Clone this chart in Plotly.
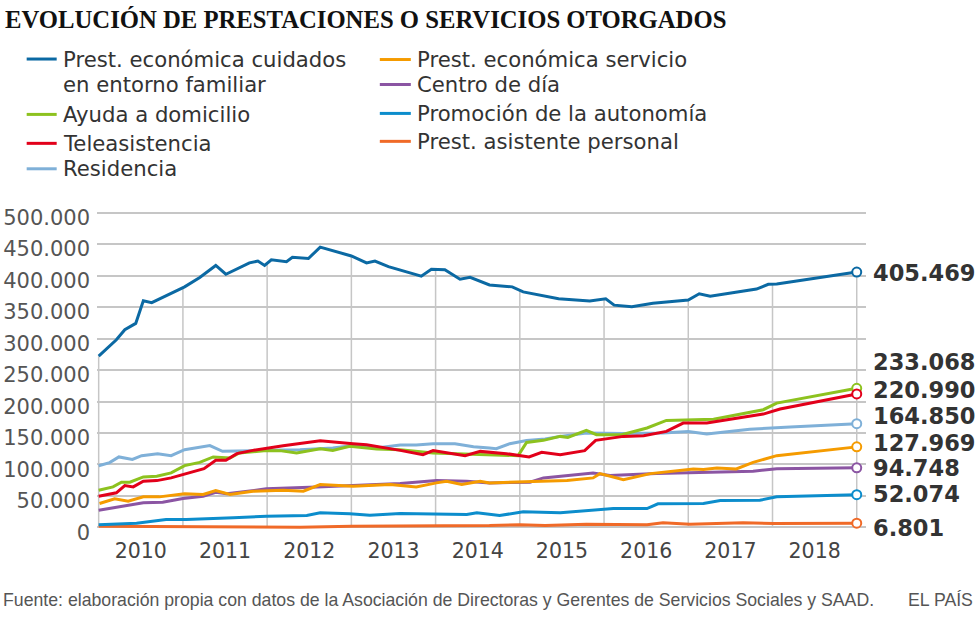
import numpy as np
import plotly.graph_objects as go

# ---------------------------------------------------------------------------
# Data (x in decimal years)
# ---------------------------------------------------------------------------
CUIDADOS_X = [2010.00, 2010.21, 2010.31, 2010.44, 2010.53, 2010.63, 2011.02, 2011.20, 2011.39, 2011.51,
              2011.79, 2011.89, 2011.97, 2012.05, 2012.23, 2012.30, 2012.49, 2012.63, 2013.00, 2013.18,
              2013.28, 2013.44, 2013.83, 2013.95, 2014.11, 2014.29, 2014.41, 2014.64, 2014.91, 2015.04,
              2015.46, 2015.83, 2016.02, 2016.12, 2016.33, 2016.58, 2017.00, 2017.13, 2017.26, 2017.81,
              2017.95, 2018.05, 2019.00]
CUIDADOS_Y = [272000, 298000, 314000, 324000, 360000, 357000, 382000, 397000, 416000, 402000,
              420000, 423000, 416000, 425000, 422000, 429000, 427000, 445000, 431000, 420000,
              423000, 414000, 399000, 410000, 409000, 394000, 397000, 385000, 382000, 374000,
              363000, 359500, 363000, 353000, 350500, 356000, 361000, 371000, 367000, 378500,
              386000, 386500, 405469]

SERVICIO_X = [2010.01, 2010.19, 2010.35, 2010.53, 2010.72, 2011.02, 2011.24, 2011.39, 2011.56, 2011.83,
              2012.19, 2012.43, 2012.63, 2013.02, 2013.46, 2013.77, 2014.01, 2014.13, 2014.31, 2014.53,
              2014.64, 2015.04, 2015.56, 2015.87, 2015.95, 2016.23, 2016.55, 2017.06, 2017.18, 2017.34,
              2017.57, 2017.77, 2018.05, 2019.00]
SERVICIO_Y = [38000, 45400, 41700, 48600, 48600, 53400, 52300, 58600, 52300, 57500,
              59000, 57500, 68100, 65400, 68100, 64400, 70800, 73300, 68100, 73300,
              70800, 72400, 74400, 78700, 85500, 76000, 85500, 93000, 91900, 94600,
              93000, 103400, 114000, 127969]

AYUDA_X = [2010.00, 2010.17, 2010.27, 2010.37, 2010.53, 2010.69, 2010.86, 2011.02, 2011.20, 2011.36,
           2011.56, 2011.67, 2011.99, 2012.15, 2012.35, 2012.63, 2012.78, 2012.98, 2013.30, 2013.58,
           2013.97, 2014.45, 2014.64, 2014.98, 2015.08, 2015.28, 2015.48, 2015.57, 2015.79, 2015.91,
           2016.21, 2016.51, 2016.74, 2017.02, 2017.30, 2017.89, 2018.05, 2019.00]
AYUDA_Y = [59000, 64400, 71800, 71800, 80300, 81300, 86600, 98200, 103400, 112000,
           110400, 118300, 122000, 122000, 118300, 125000, 122400, 128800, 124600, 123500,
           118300, 116700, 115600, 114000, 135000, 138300, 144600, 143000, 154000, 147300,
           147300, 157900, 170000, 171000, 172000, 187000, 197500, 220990]

CENTRO_X = [2010.00, 2010.21, 2010.53, 2010.76, 2011.00, 2011.24, 2011.39, 2011.52, 2011.99, 2012.59,
            2013.18, 2013.58, 2014.01, 2014.37, 2014.64, 2015.12, 2015.28, 2015.56, 2015.87, 2016.07,
            2016.62, 2017.77, 2018.05, 2019.00]
CENTRO_Y = [27400, 32200, 39100, 40100, 45900, 49600, 55900, 53400, 61300, 64400,
            67000, 69700, 74400, 73300, 70800, 71800, 78700, 82800, 86600, 82400,
            85500, 89200, 93400, 94748]

TELE_X = [2010.00, 2010.21, 2010.31, 2010.41, 2010.53, 2010.69, 2010.86, 2011.04, 2011.25, 2011.39,
          2011.51, 2011.64, 2011.83, 2012.19, 2012.63, 2013.02, 2013.18, 2013.58, 2013.85, 2013.97,
          2014.21, 2014.35, 2014.53, 2014.64, 2014.84, 2015.11, 2015.26, 2015.48, 2015.77, 2015.90,
          2016.03, 2016.23, 2016.47, 2016.74, 2016.94, 2017.22, 2017.89, 2018.09, 2019.00]
TELE_Y = [49600, 55000, 66500, 64400, 73300, 74400, 78700, 85500, 93400, 106600,
          106600, 117200, 122400, 129900, 137800, 133000, 131500, 122400, 115600, 122000,
          117200, 114000, 120800, 119900, 117200, 112000, 119300, 115600, 122000, 138300,
          140500, 144600, 145700, 152500, 165800, 165800, 180000, 188000, 212000]

PROMOCION_X = [2010.00, 2010.45, 2010.80, 2011.04, 2011.60, 2011.99, 2012.47, 2012.63, 2012.98, 2013.22,
               2013.58, 2013.97, 2014.37, 2014.49, 2014.64, 2014.76, 2015.04, 2015.48, 2016.11, 2016.51,
               2016.64, 2017.18, 2017.38, 2017.85, 2018.05, 2019.00]
PROMOCION_Y = [4300, 6800, 12700, 12700, 15400, 17900, 19000, 23300, 21700, 19500,
               22200, 21000, 20600, 23300, 20600, 19000, 24900, 23300, 30100, 30100,
               37500, 38000, 42800, 43200, 48600, 52074]

ASISTENTE_X = [2010.00, 2011.00, 2012.39, 2013.00, 2014.00, 2014.64, 2015.00, 2015.30, 2015.79, 2016.51,
               2016.70, 2017.02, 2017.65, 2018.01, 2019.00]
ASISTENTE_Y = [2000, 1500, 500, 2000, 2500, 3000, 4300, 3200, 5300, 4300,
               7400, 5300, 7400, 6300, 6801]

RESIDENCIA_X = [2010.00, 2010.13, 2010.24, 2010.40, 2010.51, 2010.70, 2010.86, 2011.02, 2011.32, 2011.47,
                2011.83, 2012.39, 2012.78, 2013.02, 2013.30, 2013.58, 2013.77, 2013.97, 2014.23, 2014.45,
                2014.64, 2014.72, 2014.88, 2015.08, 2015.30, 2015.48, 2015.79, 2016.23, 2016.70, 2017.00,
                2017.22, 2017.73, 2018.21, 2019.00]
RESIDENCIA_Y = [98000, 103000, 112000, 108000, 114000, 117000, 114000, 123500, 130000, 121000,
                122000, 123500, 126000, 130000, 126000, 131000, 131000, 133000, 133000, 128000,
                126000, 125000, 133000, 138000, 140500, 144600, 150000, 149000, 150000, 152500,
                148400, 156000, 159500, 164850]

YEARS = [2010, 2011, 2012, 2013, 2014, 2015, 2016, 2017, 2018]
END_LABELS = ["405.469", "233.068", "220.990", "164.850", "127.969", "94.748", "52.074", "6.801"]

# ---------------------------------------------------------------------------
# Style / layout
# ---------------------------------------------------------------------------
W, H = 980, 619
M_L, M_R, M_T, M_B = 97.3, 114, 209.8, 88.5
X_RANGE = [2009.98, 2019.11]
Y_RANGE = [-4000, 504000]
TEXT = "#333333"
GRID = "#c6c6c6"
SANS = "DejaVu Sans, Verdana, sans-serif"
NARROW = "Liberation Sans, Arial, sans-serif"

# (name, x, y, colour, legend column, legend row y in px)
SERIES = [
    ("Prest. económica cuidados<br>en entorno familiar", CUIDADOS_X, CUIDADOS_Y, "#0b69a3", 0, 58.5),
    ("Ayuda a domicilio", AYUDA_X, AYUDA_Y, "#8dc21f", 0, 114),
    ("Teleasistencia", TELE_X, TELE_Y, "#e2001a", 0, 143),
    ("Residencia", RESIDENCIA_X, RESIDENCIA_Y, "#7fb0d8", 0, 168.5),
    ("Prest. económica servicio", SERVICIO_X, SERVICIO_Y, "#f59b00", 1, 59),
    ("Centro de día", CENTRO_X, CENTRO_Y, "#8b55a3", 1, 84),
    ("Promoción de la autonomía", PROMOCION_X, PROMOCION_Y, "#0c8dcc", 1, 113),
    ("Prest. asistente personal", ASISTENTE_X, ASISTENTE_Y, "#f06a28", 1, 141),
]
DRAW_ORDER = [7, 6, 5, 4, 3, 1, 2, 0]
LEGEND_COLS = [(27, 57, 61), (380, 411, 415)]
LABEL_Y = [403400, 263400, 217800, 177100, 134100, 93800, 52700, -500]

PLOT_W = W - M_L - M_R
PLOT_H = H - M_T - M_B


def px(x, y):
    """pixel position -> paper coordinates"""
    return (x - M_L) / PLOT_W, (H - M_B - y) / PLOT_H


fig = go.Figure()

for i in DRAW_ORDER:
    name, xs, ys, color, _, _ = SERIES[i]
    fig.add_trace(go.Scatter(x=xs, y=ys, mode="lines", name=name.replace("<br>", " "),
                             line=dict(color=color, width=3), showlegend=False,
                             hoverinfo="x+y"))
    fig.add_trace(go.Scatter(x=[xs[-1]], y=[ys[-1]], mode="markers", showlegend=False,
                             marker=dict(size=9, color="white", line=dict(color=color, width=2)),
                             cliponaxis=False, hoverinfo="skip"))

# vertical gridlines, drawn only up to the top series
for yr in YEARS + [YEARS[-1] + 1]:
    top = float(np.interp(yr, CUIDADOS_X, CUIDADOS_Y))
    fig.add_shape(type="line", xref="x", yref="y", x0=yr, x1=yr, y0=0, y1=top,
                  line=dict(color=GRID, width=1.5), layer="below")

# manual legend
for name, _, _, color, col, row in SERIES:
    x0, x1, xt = LEGEND_COLS[col]
    a, b = px(x0, row)
    c, _ = px(x1, row)
    fig.add_shape(type="line", xref="paper", yref="paper", x0=a, x1=c, y0=b, y1=b,
                  line=dict(color=color, width=3))
    for k, part in enumerate(name.split("<br>")):
        tx, ty = px(xt, row + 25.5 * k)
        fig.add_annotation(x=tx, y=ty, xref="paper", yref="paper", text=part, showarrow=False,
                           xanchor="left", yanchor="middle",
                           font=dict(family=SANS, size=21.2, color=TEXT))

# end-value labels
for text, ly in zip(END_LABELS, LABEL_Y):
    fig.add_annotation(x=2019.0, y=ly, xref="x", yref="y", text=text, showarrow=False,
                       xanchor="left", yanchor="middle", xshift=14,
                       font=dict(family=SANS, size=22.5, color=TEXT, weight="bold"))

# title
tx, ty = px(3, 19)
fig.add_annotation(x=tx, y=ty, xref="paper", yref="paper", showarrow=False,
                   text="EVOLUCIÓN DE PRESTACIONES O SERVICIOS OTORGADOS",
                   xanchor="left", yanchor="middle",
                   font=dict(family="Liberation Serif, Times New Roman, serif", size=24.7,
                             color="#111111", weight="bold"))

# source / credit
tx, ty = px(1, 601)
fig.add_annotation(x=tx, y=ty, xref="paper", yref="paper", showarrow=False,
                   text="Fuente: elaboración propia con datos de la Asociación de Directoras y "
                        "Gerentes de Servicios Sociales y SAAD.",
                   xanchor="left", yanchor="middle",
                   font=dict(family=NARROW, size=17.7, color="#555555"))
tx, ty = px(975, 601)
fig.add_annotation(x=tx, y=ty, xref="paper", yref="paper", showarrow=False, text="EL PAÍS",
                   xanchor="right", yanchor="middle",
                   font=dict(family=NARROW, size=17.7, color="#555555"))

fig.update_xaxes(range=X_RANGE, tickvals=[y + 0.5 for y in YEARS], ticktext=[str(y) for y in YEARS],
                 showgrid=False, zeroline=False, showline=False, ticks="",
                 ticklabelstandoff=6, tickfont=dict(family=SANS, size=20.5, color="#444444"))
fig.update_yaxes(range=Y_RANGE, tickvals=list(range(0, 500001, 50000)), tickformat=",d",
                 showgrid=True, gridcolor=GRID, gridwidth=1.5, zeroline=False, showline=False,
                 ticks="", ticklabelshift=5, ticklabelstandoff=6,
                 tickfont=dict(family=SANS, size=21, color="#555555"))

fig.update_layout(
    width=W, height=H,
    margin=dict(l=M_L, r=M_R, t=M_T, b=M_B, autoexpand=False),
    paper_bgcolor="white", plot_bgcolor="white",
    separators=",.",
    showlegend=False,
)

# page body has a default 8px margin; drop it so the figure fills the window
fig.write_html("out.html", config={"displayModeBar": False},
               post_script="document.body.style.margin = '0';")
